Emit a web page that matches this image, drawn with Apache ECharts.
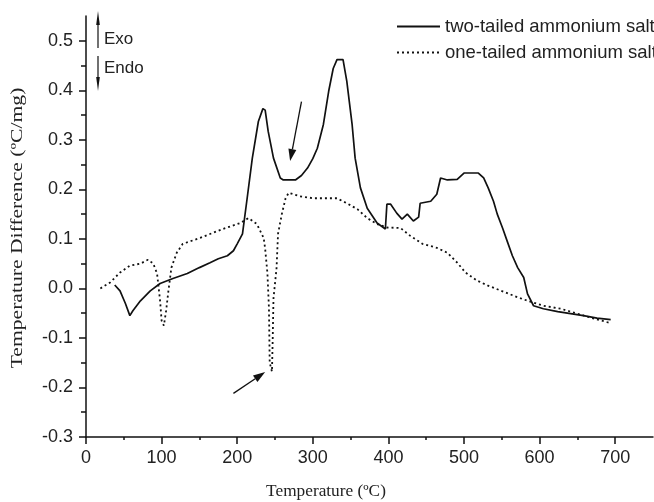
<!DOCTYPE html>
<html>
<head>
<meta charset="utf-8">
<script src="https://cdn.jsdelivr.net/npm/echarts@6/dist/echarts.min.js"></script>
<style>html,body{margin:0;padding:0;background:#fff}#c{width:654px;height:502px}</style>
</head>
<body>
<div id="c"></div>
<script>
// Two-tailed ammonium salt (solid)
const twoTemp = [38,45,52,58,62,72,85,98,115,134,150,164,175,187,195,200,207,213,220,228,234,237,241,248,257,261,277,285,293,300,306,314,321,327,332,340,345,352,356,363,372,385,396,398,403,411,418,425,433,440,442,456,464,469,478,491,500,519,526,532,539,544,551,557,564,571,579,584,592,605,624,641,658,676,694];
const twoVal = [0.007,-0.005,-0.03,-0.055,-0.045,-0.025,-0.005,0.01,0.02,0.03,0.042,0.052,0.06,0.066,0.076,0.09,0.11,0.18,0.263,0.337,0.363,0.36,0.317,0.263,0.223,0.219,0.219,0.228,0.243,0.262,0.283,0.331,0.398,0.444,0.462,0.462,0.418,0.331,0.263,0.203,0.162,0.132,0.12,0.17,0.17,0.152,0.14,0.15,0.136,0.144,0.172,0.176,0.19,0.223,0.219,0.22,0.233,0.233,0.223,0.203,0.176,0.15,0.122,0.096,0.066,0.042,0.022,-0.011,-0.035,-0.041,-0.047,-0.051,-0.055,-0.06,-0.063];
// One-tailed ammonium salt (dotted)
const oneTemp = [19,32,45,58,72,82,89,94,98,100,103,106,109,113,120,128,151,181,204,215,226,235,237,240,242,243,246,247,248,252,254,259,264,268,283,301,332,345,359,372,385,398,416,429,445,464,478,491,502,517,531,548,566,584,605,628,650,672,694];
const oneVal = [0.0,0.012,0.032,0.046,0.05,0.058,0.05,0.03,-0.025,-0.065,-0.075,-0.045,-0.005,0.042,0.072,0.09,0.102,0.12,0.132,0.142,0.13,0.102,0.08,0.03,-0.04,-0.15,-0.168,-0.1,-0.02,0.04,0.11,0.15,0.182,0.193,0.186,0.182,0.182,0.172,0.16,0.142,0.13,0.123,0.122,0.106,0.09,0.082,0.072,0.052,0.032,0.016,0.006,-0.004,-0.015,-0.025,-0.035,-0.041,-0.051,-0.061,-0.07];
const seriesNames = ['two-tailed ammonium salt','one-tailed ammonium salt'];
const xTicks = [0,100,200,300,400,500,600,700];
const xTickLabels = ['0','100','200','300','400','500','600','700'];
const yTicks = [-0.3,-0.2,-0.1,0.0,0.1,0.2,0.3,0.4,0.5];
const yTickLabels = ['-0.3','-0.2','-0.1','0.0','0.1','0.2','0.3','0.4','0.5'];

const chart = echarts.init(document.getElementById('c'), null, {renderer:'canvas'});
const pair = (xs, ys) => xs.map((x,i)=>[x, ys[i]]);
const sans = 'Liberation Sans, Arial, sans-serif';
const serif = 'Liberation Serif, Times New Roman, serif';
const fmt = (ticks, labels) => v => { const i = ticks.findIndex(t => Math.abs(t - v) < 1e-6); return i >= 0 ? labels[i] : ''; };

chart.setOption({
  animation:false,
  backgroundColor:'#fff',
  grid:{left:86,right:1,top:16,bottom:65,containLabel:false},
  legend:{
    orient:'vertical', left:391, top:12, itemWidth:43, itemHeight:14, itemGap:7,
    itemStyle:{opacity:0},
    textStyle:{fontFamily:sans,fontSize:18.5,color:'#222'},
    data:seriesNames
  },
  xAxis:{
    type:'value', min:0, max:750, interval:100,
    axisLine:{onZero:false,lineStyle:{color:'#111',width:1.5}},
    axisTick:{inside:false,length:7,customValues:xTicks,lineStyle:{color:'#111',width:1.5}},
    minorTick:{show:true,splitNumber:2,length:3,lineStyle:{color:'#111',width:1.5}},
    splitLine:{show:false},
    axisLabel:{margin:12,fontFamily:sans,fontSize:18,color:'#222',customValues:xTicks,formatter:fmt(xTicks,xTickLabels)}
  },
  yAxis:{
    type:'value', min:-0.3, max:0.55, interval:0.1,
    axisLine:{onZero:false,lineStyle:{color:'#111',width:1.5}},
    axisTick:{inside:false,length:7,customValues:yTicks,lineStyle:{color:'#111',width:1.5}},
    minorTick:{show:true,splitNumber:2,length:5,lineStyle:{color:'#111',width:1.5}},
    splitLine:{show:false},
    axisLabel:{margin:13,fontFamily:sans,fontSize:18,color:'#222',customValues:yTicks,formatter:fmt(yTicks,yTickLabels)}
  },
  series:[
    {name:seriesNames[0],type:'line',symbol:'none',data:pair(twoTemp,twoVal),
     lineStyle:{color:'#111',width:1.7,type:'solid'},itemStyle:{color:'#111'}},
    {name:seriesNames[1],type:'line',symbol:'none',data:pair(oneTemp,oneVal),
     lineStyle:{color:'#111',width:1.8,type:[2,3]},itemStyle:{color:'#111'}}
  ]
});

function arrow(x1,y1,x2,y2,len,half,w){
  const a=Math.atan2(y2-y1,x2-x1);
  const bx=x2-len*Math.cos(a), by=y2-len*Math.sin(a);
  const px=-Math.sin(a)*half, py=Math.cos(a)*half;
  return [
    {type:'line',shape:{x1:x1,y1:y1,x2:bx,y2:by},style:{stroke:'#111',lineWidth:w},silent:true},
    {type:'polygon',shape:{points:[[x2,y2],[bx+px,by+py],[bx-px,by-py]]},style:{fill:'#111'},silent:true}
  ];
}
const p1a = chart.convertToPixel({gridIndex:0},[285,0.377]);
const p1b = chart.convertToPixel({gridIndex:0},[270,0.257]);
const p2a = chart.convertToPixel({gridIndex:0},[195,-0.212]);
const p2b = chart.convertToPixel({gridIndex:0},[237,-0.169]);
const g = [];
g.push(...arrow(p1a[0],p1a[1],p1b[0],p1b[1],12,4,1.3));
g.push(...arrow(p2a[0],p2a[1],p2b[0],p2b[1],12,4,1.3));
g.push(...arrow(98,48,98,11,14,1.8,1.2));
g.push(...arrow(98,56,98,91,14,1.8,1.2));
g.push({type:'text',x:104,y:39,style:{text:'Exo',fontFamily:sans,fontSize:17,fill:'#222',textAlign:'left',textVerticalAlign:'middle'},silent:true});
g.push({type:'text',x:104,y:68,style:{text:'Endo',fontFamily:sans,fontSize:17,fill:'#222',textAlign:'left',textVerticalAlign:'middle'},silent:true});
g.push({type:'text',x:18,y:228,rotation:Math.PI/2,scaleX:1.35,style:{text:'Temperature Difference (ºC/mg)',fontFamily:serif,fontSize:16,fill:'#222',textAlign:'center',textVerticalAlign:'middle'},silent:true});
g.push({type:'text',x:326,y:492,scaleX:1.08,style:{text:'Temperature (ºC)',fontFamily:serif,fontSize:16,fill:'#222',textAlign:'center',textVerticalAlign:'middle'},silent:true});
chart.setOption({graphic:{elements:g}});
</script>
</body>
</html>
